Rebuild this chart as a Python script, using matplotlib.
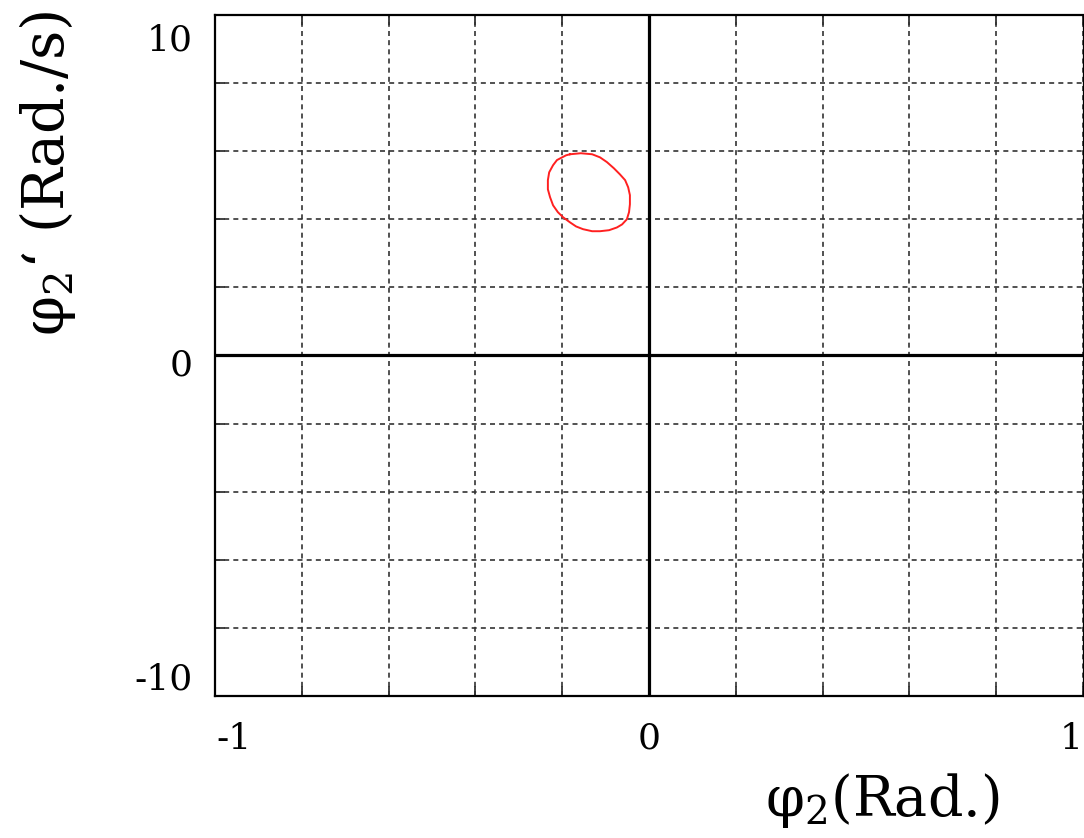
import matplotlib.pyplot as plt
import numpy as np

# phase trajectory (phi2, dphi2/dt)
phi = [-0.182, -0.157, -0.131, -0.113, -0.097, -0.081, -0.067, -0.055,
       -0.048, -0.044, -0.044, -0.046, -0.051, -0.062, -0.074, -0.092,
       -0.113, -0.131, -0.152, -0.168, -0.182, -0.198, -0.210, -0.221,
       -0.228, -0.233, -0.233, -0.230, -0.221, -0.212, -0.200, -0.191, -0.182]
dphi = [5.91, 5.94, 5.91, 5.82, 5.68, 5.50, 5.32, 5.15,
        4.94, 4.71, 4.44, 4.21, 4.00, 3.85, 3.76, 3.68,
        3.65, 3.65, 3.71, 3.79, 3.91, 4.06, 4.21, 4.41,
        4.65, 4.88, 5.15, 5.38, 5.59, 5.74, 5.82, 5.88, 5.91]

x_ticks = np.arange(-1, 1.01, 0.2)
y_ticks = np.arange(-10, 10.1, 2)

plt.rcParams['font.family'] = ['DejaVu Serif']
plt.rcParams['mathtext.fontset'] = 'dejavuserif'

fig = plt.figure(figsize=(10.84, 8.38), dpi=100)
ax = fig.add_axes([215 / 1084, 142 / 838, 868 / 1084, 681 / 838])

ax.plot(phi, dphi, color='#ff2020', lw=1.4, zorder=3)

ax.axhline(0, color='black', lw=2.3, zorder=2)
ax.axvline(0, color='black', lw=2.3, zorder=2)

ax.set_xlim(-1, 1)
ax.set_ylim(-10, 10)
ax.set_xticks(x_ticks)
ax.set_yticks(y_ticks)
ax.set_xticklabels([])
ax.set_yticklabels([])
ax.tick_params(direction='in', length=7, width=1.3, color='#333333',
               top=True, bottom=True, left=True, right=False)
ax.grid(True, color='#333333', ls=(0, (3, 2.5)), lw=1.2)
ax.set_axisbelow(True)

for side in ['left', 'bottom', 'top']:
    ax.spines[side].set_linewidth(1.6)
ax.spines['right'].set_linewidth(0.9)

# tick labels
fs = 26
ax.text(-0.026, 0.962, '10', transform=ax.transAxes, ha='right', va='center', fontsize=fs)
ax.text(-0.026, 0.485, '0', transform=ax.transAxes, ha='right', va='center', fontsize=fs)
ax.text(-0.026, 0.024, '-10', transform=ax.transAxes, ha='right', va='center', fontsize=fs)
ax.text(0.002, -0.063, '-1', transform=ax.transAxes, ha='left', va='center', fontsize=fs)
ax.text(0.5, -0.063, '0', transform=ax.transAxes, ha='center', va='center', fontsize=fs)
ax.text(1.0, -0.063, '1', transform=ax.transAxes, ha='right', va='center', fontsize=fs)

fig.text(882 / 1084, 1 - 800 / 838, 'φ$_2$(Rad.)', ha='center', va='center', fontsize=40)
fig.text(48 / 1084, 1 - 10 / 838, 'φ$_2$‘ (Rad./s)', ha='center', va='top',
         rotation=90, fontsize=41)

fig.savefig('out.png', dpi=100)
